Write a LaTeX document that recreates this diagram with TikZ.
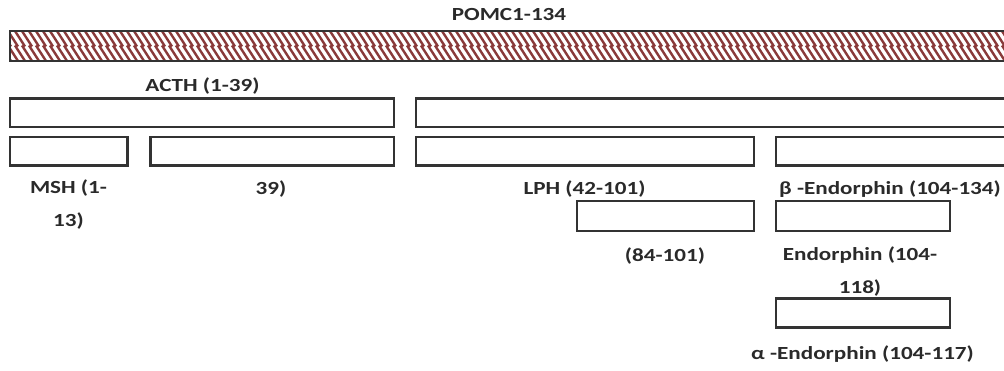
\documentclass[tikz,border=0pt]{standalone}
\usepackage{fontspec}
\setmainfont{Carlito}[FakeStretch=1.25]
\definecolor{txt}{HTML}{2A2A2A}
\definecolor{edge}{HTML}{333333}
\definecolor{hatch}{HTML}{8A3A3A}
\begin{document}
\begin{tikzpicture}[x=1pt,y=-1pt,
  box/.style={draw=edge,line width=2.2pt,fill=white},
  lbl/.style={text=txt,font=\fontsize{18.5}{33}\selectfont\bfseries,inner sep=0pt,align=center}]
\useasboundingbox (0,0) rectangle (1004,371);
% POMC hatched bar
\coordinate (pa) at (10,31);
\coordinate (pb) at (1012,61);
\begin{scope}
  \clip (pa) rectangle (pb);
  \foreach \x in {-20,-13,...,1020}{
    \draw[hatch,line width=2.4pt] (\x,31) -- ++(10,15.5);
    \draw[hatch,line width=2.4pt] (\x,45.5) -- ++(10,15.5);
  }
\end{scope}
\draw[edge,line width=2.2pt] (pa) rectangle (pb);
\node[lbl] (tpomc) at (509,15) {POMC1-134};
% row 1
\draw[box] (10,98.5) rectangle (394,127) coordinate (acth);
\draw[box] (416,98.5) rectangle (1012,127) coordinate (lphbig);
\node[lbl] (tacth) at (202.5,86) {ACTH (1-39)};
% row 2
\draw[box] (10,137) rectangle (127.5,165.5) coordinate (msh);
\draw[box] (150.5,137) rectangle (394,165.5) coordinate (b39);
\draw[box] (416,137) rectangle (754,165.5) coordinate (lph);
\draw[box] (776,137) rectangle (1012,165.5) coordinate (bend);
\node[lbl,anchor=north] (tmsh) at (68.5,180) {MSH (1-\\13)};
\node[lbl] (t39) at (271,189) {39)};
\node[lbl] (tlph) at (584.5,189) {LPH (42-101)};
\node[lbl] (tbend) at (890,189) {β -Endorphin (104-134)};
% row 3
\draw[box] (577,201) rectangle (754,231) coordinate (r3a);
\draw[box] (776,201) rectangle (950,231) coordinate (r3b);
\node[lbl] (t84) at (665,256) {(84-101)};
\node[lbl,anchor=north] (tend) at (860,247) {Endorphin (104-\\118)};
% row 4
\draw[box] (776,298.5) rectangle (950,327.5) coordinate (r4);
\node[lbl] (taend) at (862.5,354) {α -Endorphin (104-117)};
\end{tikzpicture}
\end{document}
